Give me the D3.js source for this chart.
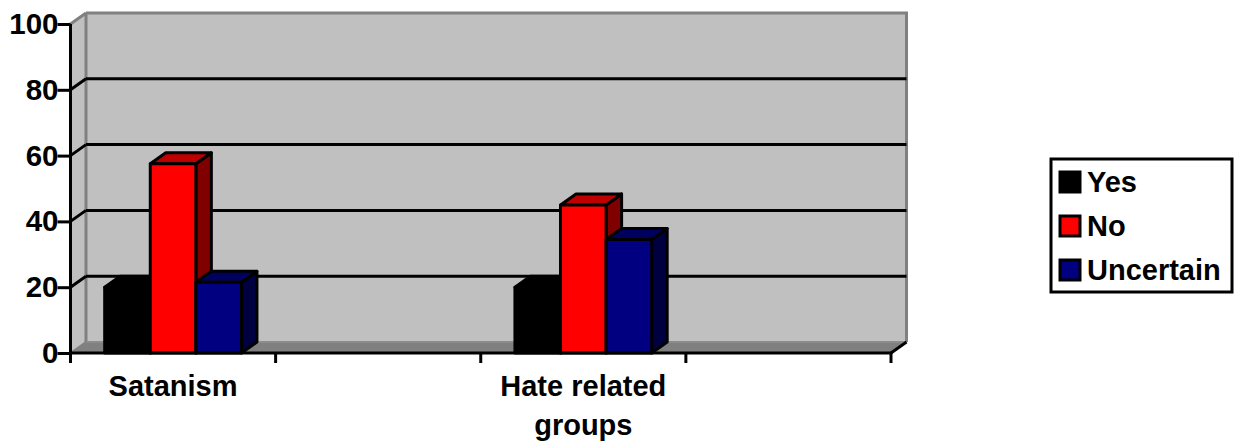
<!DOCTYPE html>
<html><head><meta charset="utf-8">
<script src="https://cdn.jsdelivr.net/npm/d3@7"></script>
<style>html,body{margin:0;padding:0;background:#fff}svg{display:block}text{font-family:"Liberation Sans",Arial,sans-serif;font-weight:bold;fill:#000}</style>
</head><body><svg id="c" width="1237" height="441"></svg>
<script>
const categories = ["Satanism", "", "Hate related groups", ""];
const categoryLines = [["Satanism"], [], ["Hate related", "groups"], []];
const seriesNames = ["Yes", "No", "Uncertain"];
const yesValues = [20, 0, 20, 0];
const noValues = [57.5, 0, 45, 0];
const uncertainValues = [21.5, 0, 34.5, 0];
const yTicks = [0, 20, 40, 60, 80, 100];
const seriesColors = [
  {front:"#000000", top:"#000000", side:"#000000"},
  {front:"#ff0000", top:"#bf0000", side:"#800000"},
  {front:"#000080", top:"#000060", side:"#000040"}
];
const svg = d3.select("#c");
const x = d3.scaleBand().domain(categories.map((d,i)=>i)).range([70.5,891]);
const inner = d3.scaleBand().domain(seriesNames).range([x.bandwidth()/6, x.bandwidth()*5/6]);
const y = d3.scaleLinear().domain([0,100]).range([353,24]);
const dx = 15.5, dy = -11;
const K = "#000", G = "#808080";

// walls
const pts = a => a.map(p=>p.join(",")).join(" ");
const x0 = x.range()[0], x1 = x.range()[1];
svg.append("polygon").attr("points",pts([[x0+dx,y(100)+dy],[x1+dx,y(100)+dy],[x1+dx,y(0)+dy],[x0+dx,y(0)+dy]])).attr("fill","#c0c0c0");
svg.append("polygon").attr("points",pts([[x0,y(100)],[x0+dx,y(100)+dy],[x0+dx,y(0)+dy],[x0,y(0)]])).attr("fill","#c0c0c0");
svg.append("polygon").attr("points",pts([[x0,y(0)],[x0+dx,y(0)+dy],[x1+dx,y(0)+dy],[x1,y(0)]])).attr("fill","#808080");
// wall outlines
const wallLine = (a,b,c,w=3)=>svg.append("line").attr("x1",a[0]).attr("y1",a[1]).attr("x2",b[0]).attr("y2",b[1]).attr("stroke",c).attr("stroke-width",w);
wallLine([x0+dx,y(100)+dy],[x1+dx+1.5,y(100)+dy],G);
wallLine([x1+dx,y(100)+dy],[x1+dx,y(0)+dy],G);
wallLine([x0+dx,y(100)+dy],[x0+dx,y(0)+dy],G);
wallLine([x0,y(100)],[x0+dx,y(100)+dy],G);
wallLine([x0+dx,y(0)+dy],[x1+dx,y(0)+dy],"#8c8c8c",2);
// gridlines
yTicks.filter(t=>t>0&&t<100).forEach(t=>{
  wallLine([x0+dx,y(t)+dy],[x1+dx,y(t)+dy],K);
  wallLine([x0,y(t)],[x0+dx,y(t)+dy],K);
});
wallLine([x0,y(0)],[x0+dx,y(0)+dy],G,2);
wallLine([x1,y(0)],[x1+dx,y(0)+dy],K);

// bars
const vals = [yesValues,noValues,uncertainValues];
categories.forEach((cat,ci)=>{
  if(!cat) return;
  seriesNames.forEach((s,si)=>{
    const v = vals[si][ci], c = seriesColors[si];
    const l = x(ci)+inner(s), r = l+inner.bandwidth(), t = y(v), b = y(0);
    const g = svg.append("g").attr("stroke",K).attr("stroke-width",3).attr("stroke-linejoin","round");
    g.append("polygon").attr("points",pts([[r,t],[r+dx,t+dy],[r+dx,b+dy],[r,b]])).attr("fill",c.side);
    g.append("polygon").attr("points",pts([[l,t],[l+dx,t+dy],[r+dx,t+dy],[r,t]])).attr("fill",c.top);
    g.append("rect").attr("x",l).attr("y",t).attr("width",r-l).attr("height",b-t).attr("fill",c.front);
  });
});

// axes
const yAxis = svg.append("g").attr("transform",`translate(${x0},0)`).call(d3.axisLeft(y).tickValues(yTicks).tickSize(13).tickPadding(0));
const xTickVals = d3.range(5).map(i=>x0+i*x.step());
yAxis.select(".domain").attr("stroke",K).attr("stroke-width",3).attr("d",`M0,${y(100)}V${y(0)}`);
yAxis.selectAll(".tick line").attr("stroke",K).attr("stroke-width",3);
yAxis.selectAll(".tick text").attr("x",-12).attr("font-size",29.5).style("font-family",'"Liberation Sans",Arial,sans-serif').style("font-weight","bold");
wallLine([x0-1.5,y(0)],[x1,y(0)],K);
xTickVals.forEach(v=>wallLine([v,y(0)],[v,y(0)+10],K));

// category labels
categoryLines.forEach((lines,ci)=>{
  lines.forEach((ln,li)=>{
    svg.append("text").attr("x",x(ci)+x.bandwidth()/2).attr("y",396+li*39).attr("text-anchor","middle").attr("font-size",29).text(ln);
  });
});

// legend
const legend = svg.append("g");
legend.append("rect").attr("x",1051).attr("y",159).attr("width",181).attr("height",133).attr("fill","#fff").attr("stroke",K).attr("stroke-width",3);
const ly = d3.scalePoint().domain(seriesNames).range([182,270]);
seriesNames.forEach((s,i)=>{
  legend.append("rect").attr("x",1060).attr("y",ly(s)-10).attr("width",20).attr("height",20).attr("fill",seriesColors[i].front).attr("stroke",K).attr("stroke-width",3);
  legend.append("text").attr("x",1087).attr("y",ly(s)+10).attr("font-size",29).text(s);
});
</script></body></html>
